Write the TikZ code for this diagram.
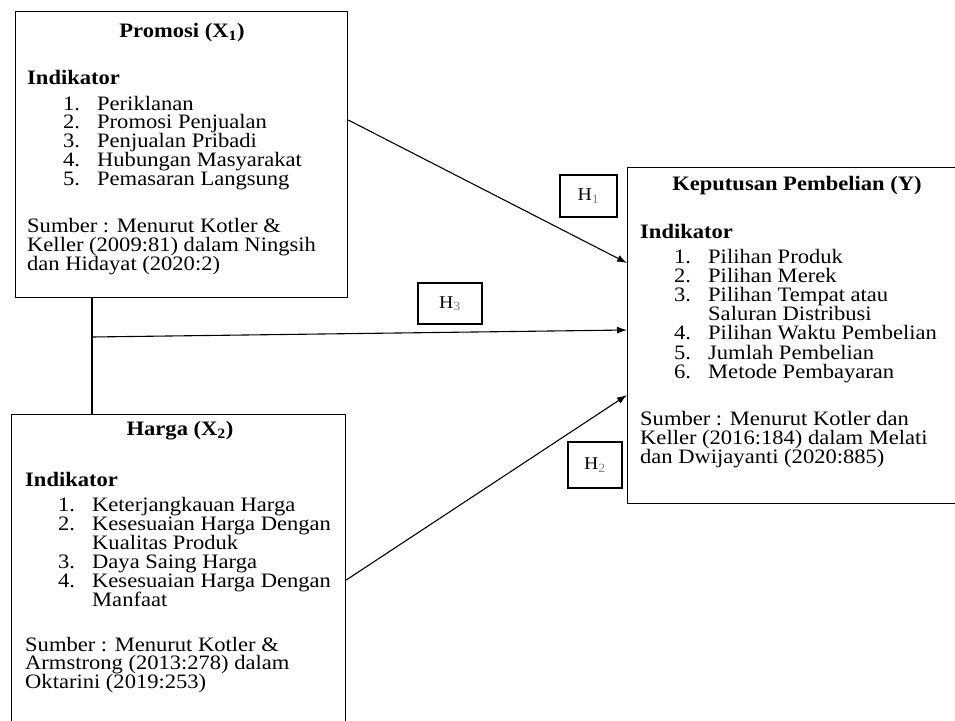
\documentclass[tikz,border=0pt]{standalone}
\usepackage{fontspec}
\setmainfont[FakeStretch=1.1]{Liberation Serif}
\usetikzlibrary{arrows.meta}

\newcommand{\itemnum}[1]{\llap{\makebox[34pt][l]{#1}}}

\tikzset{
  varbox/.style={draw, line width=1.2pt, anchor=north west, inner sep=0pt},
  txt/.style={anchor=base west, inner sep=0pt, font=\fontsize{20.5}{19}\selectfont},
  bold/.style={txt, font=\fontsize{20.5}{19}\selectfont\bfseries},
  head/.style={anchor=base, inner sep=0pt, font=\fontsize{20.5}{19}\selectfont\bfseries},
  hbox/.style={draw, line width=1.1pt, inner sep=0pt, font=\fontsize{18}{18}\selectfont},
  link/.style={line width=1.1pt, -{Latex[length=10pt,width=7pt]}}
}

\begin{document}
\begin{tikzpicture}[x=1pt, y=-1pt]
        \useasboundingbox (0,0) rectangle (955,720);
        \clip (0,0) rectangle (955,720);

        \node [varbox, minimum width=332pt, minimum height=286pt] (promosi)   at (15,11)  {}; %X1
        \node [varbox, minimum width=334pt, minimum height=312pt] (harga)     at (11,414) {}; %X2
        \node [varbox, minimum width=332pt, minimum height=336pt] (keputusan) at (627,167) {}; %Y

        \node [head] (promosi-t) at (182,37) {Promosi (X\textsubscript{1})};                  %
        \node [bold] (promosi-i) at (27,84)  {Indikator};                                     %
        \foreach \t [count=\i from 0] in {\itemnum{1.}Periklanan, \itemnum{2.}Promosi Penjualan,
            \itemnum{3.}Penjualan Pribadi, \itemnum{4.}Hubungan Masyarakat, \itemnum{5.}Pemasaran Langsung}
          \node [txt] (promosi-\i) at (97,110+18.8*\i) {\t};
        \foreach \t [count=\i from 0] in {Sumber : Menurut Kotler \&, Keller (2009:81) dalam Ningsih,
            dan Hidayat (2020:2)}
          \node [txt] (promosi-s\i) at (27,232+19*\i) {\t};

        \node [head] (harga-t) at (180,435) {Harga (X\textsubscript{2})};                     %
        \node [bold] (harga-i) at (25,486)  {Indikator};                                      %
        \foreach \t [count=\i from 0] in {\itemnum{1.}Keterjangkauan Harga, \itemnum{2.}Kesesuaian Harga Dengan,
            Kualitas Produk, \itemnum{3.}Daya Saing Harga, \itemnum{4.}Kesesuaian Harga Dengan, Manfaat}
          \node [txt] (harga-\i) at (92,511+19*\i) {\t};
        \foreach \t [count=\i from 0] in {Sumber : Menurut Kotler \&, Armstrong (2013:278) dalam,
            Oktarini (2019:253)}
          \node [txt] (harga-s\i) at (25,651+18.8*\i) {\t};

        \node [head] (keputusan-t) at (797,190) {Keputusan Pembelian (Y)};                    %
        \node [bold] (keputusan-i) at (640,238) {Indikator};                                  %
        \foreach \t [count=\i from 0] in {\itemnum{1.}Pilihan Produk, \itemnum{2.}Pilihan Merek,
            \itemnum{3.}Pilihan Tempat atau, Saluran Distribusi, \itemnum{4.}Pilihan Waktu Pembelian,
            \itemnum{5.}Jumlah Pembelian, \itemnum{6.}Metode Pembayaran}
          \node [txt] (keputusan-\i) at (708,263+19.2*\i) {\t};
        \foreach \t [count=\i from 0] in {Sumber : Menurut Kotler dan, Keller (2016:184) dalam Melati,
            dan Dwijayanti (2020:885)}
          \node [txt] (keputusan-s\i) at (640,425+19*\i) {\t};

        \coordinate (p-out) at ([yshift=-109pt]promosi.north east);                           %
        \coordinate (h-out) at ([yshift=-166pt]harga.north east);                             %
        \coordinate (split) at (92,337);                                                      %
        \coordinate (k1)    at ([yshift=-96pt]keputusan.north west);                          %
        \coordinate (k3)    at ([yshift=-163pt]keputusan.north west);                         %
        \coordinate (k2)    at ([yshift=-228pt]keputusan.north west);                         %

        \draw [line width=1.1pt] (promosi.south -| split) -- (harga.north -| split);          %
        \draw [link] (p-out) -- (k1);                                                         %H1
        \draw [link] (split) -- (k3);                                                         %H3
        \draw [link] (h-out) -- (k2);                                                         %H2

        \node [hbox, minimum width=57pt, minimum height=42pt] (h1) at (588.5,196) {H\textsubscript{\color{gray}1}};
        \node [hbox, minimum width=64pt, minimum height=41pt] (h3) at (450,303.5) {H\textsubscript{\color{gray}3}};
        \node [hbox, minimum width=54pt, minimum height=46pt] (h2) at (595,465)   {H\textsubscript{\color{gray}2}};
\end{tikzpicture}
\end{document}
